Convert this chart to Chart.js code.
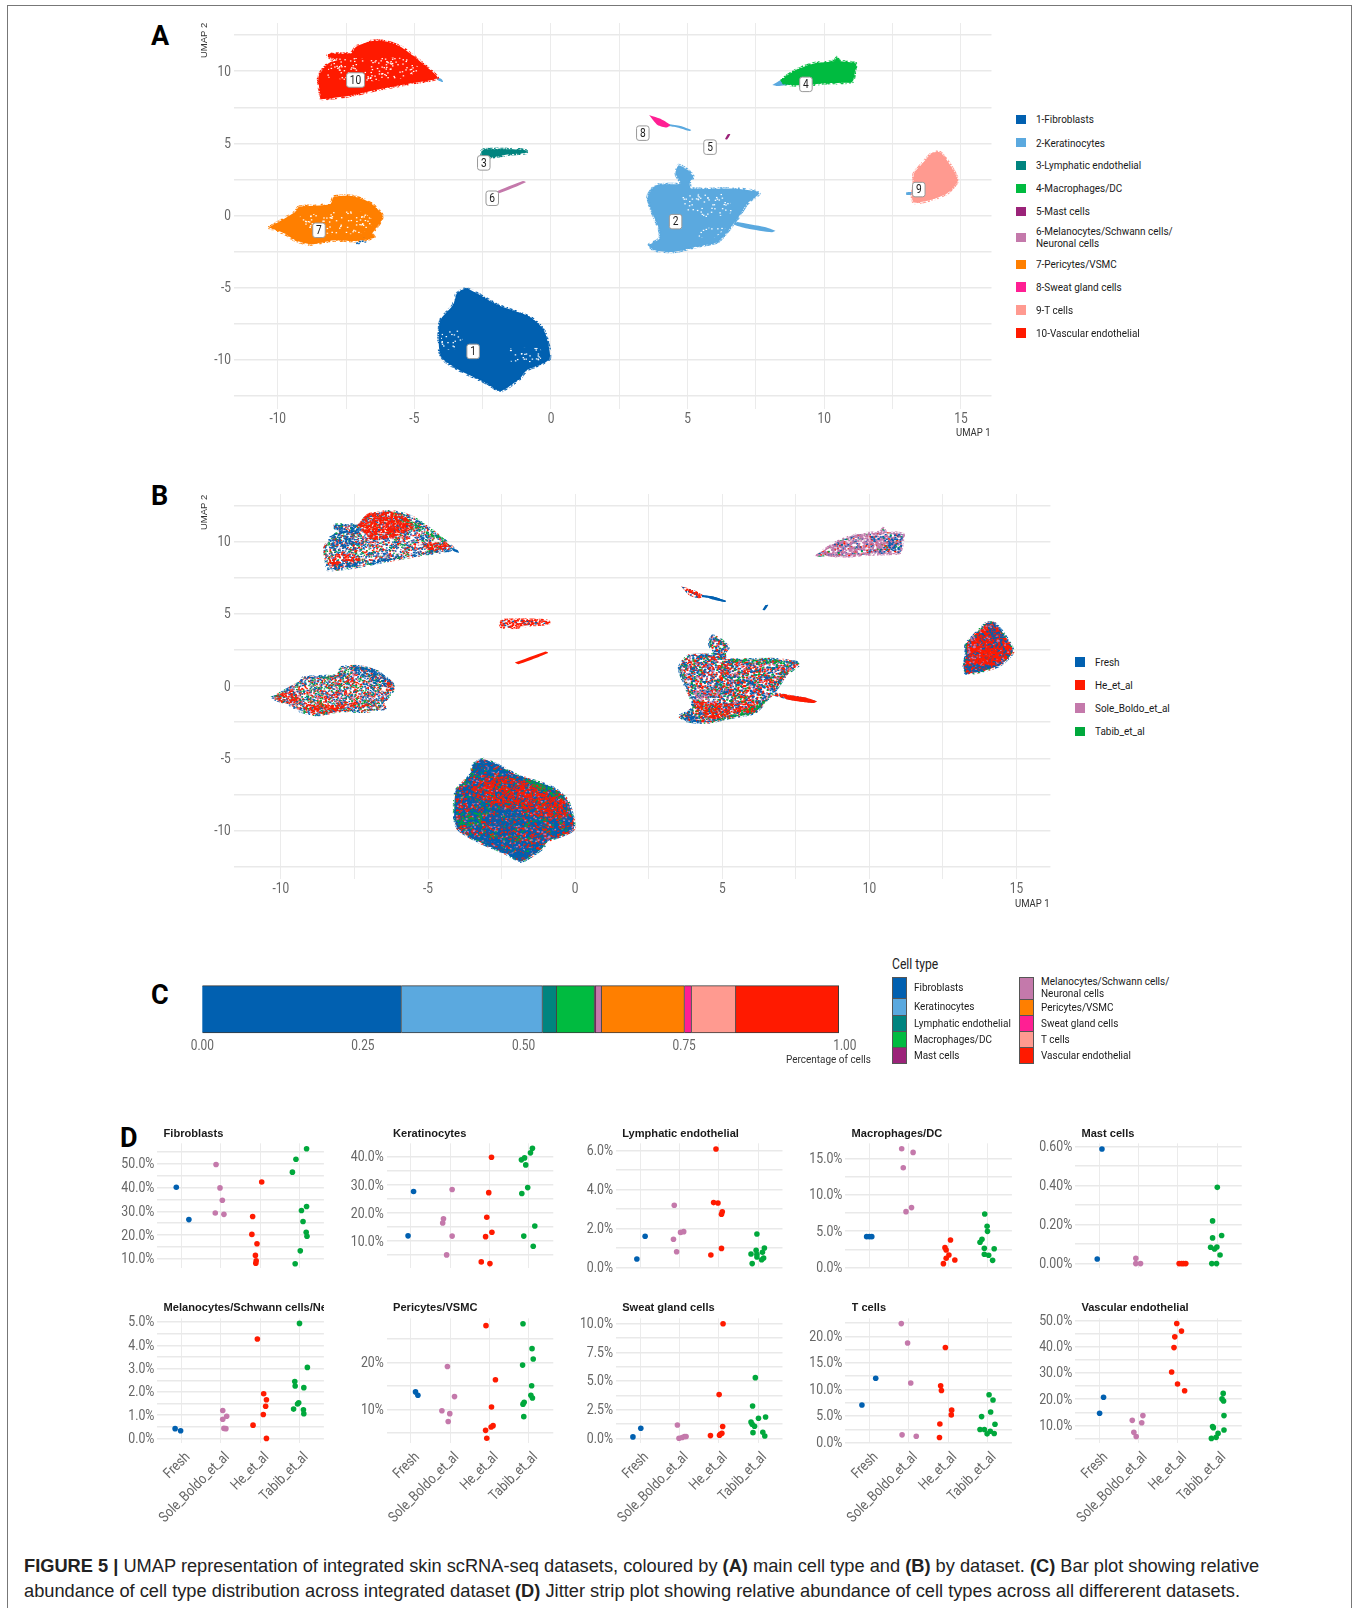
<!DOCTYPE html>
<html>
<head>
<meta charset="utf-8">
<script src="https://cdn.jsdelivr.net/npm/chart.js@4"></script>
<style>
html,body{margin:0;padding:0;background:#fff;}
body{width:1356px;height:1608px;position:relative;overflow:hidden;font-family:Roboto,sans-serif;color:#1a1a1a;}
canvas{position:absolute;}
.t{position:absolute;white-space:nowrap;line-height:1;}
.c{transform:scaleX(.866);transform-origin:left center;}
.sw{position:absolute;box-sizing:border-box;}
#frame{position:absolute;left:7px;top:5px;width:1345px;height:1640px;border:1.6px solid #777;box-sizing:border-box;}
.panel{font-family:Roboto,sans-serif;font-weight:700;font-size:27px;color:#000;}
.facet{font-family:"Liberation Sans",sans-serif;font-weight:700;font-size:11.1px;color:#1a1a1a;overflow:hidden;}
#cap{font-family:"Liberation Sans",sans-serif;font-size:18.25px;color:#222;}
</style>
</head>
<body>
<div id="frame"></div>
<script>
const FONT = 'Roboto,sans-serif';
const GRAY = '#666';
const CONDENSE = 0.85;

const cellColors = {
  Fibroblasts:'#0160B0', Keratinocytes:'#5BA9DF', Lymphatic:'#00847F', Macrophages:'#00BB40', Mast:'#9B2379',
  Melanocytes:'#C479AB', Pericytes:'#FF7F00', Sweat:'#FF1F93', Tcells:'#FF9A90', Vascular:'#FF1A00'
};
const datasetColors = ['#0160B0','#C479AB','#FF1A00','#00A83C'];

/* ---------- Panel A / B : cluster outlines, [UMAP1, UMAP2] ---------- */
const cluster1 = [[-3.46,-5.41],[-3.13,-5.06],[-2.69,-5.41],[-1.92,-6.22],[-0.77,-7.03],[-0.26,-7.95],[-0.05,-9.92],[-0.9,-10.73],[-1.15,-11.31],[-1.85,-12.16],[-2.31,-11.65],[-3.33,-10.73],[-3.97,-9.92],[-4.1,-9.11],[-4.05,-7.26],[-3.59,-6.22]];
const cluster2 = [[3.54,-2.06],[3.79,-2.4],[4.49,-2.52],[5.38,-2.13],[6.1,-1.83],[6.59,-0.79],[6.87,-0.09],[7.18,0.83],[7.62,1.57],[6.67,1.87],[5.13,1.87],[5.08,2.34],[5.21,2.68],[5.0,3.14],[4.67,3.49],[4.56,2.91],[4.74,2.22],[3.85,2.1],[3.54,1.29],[3.72,0.14],[3.97,-1.02],[3.97,-1.6]];
const cluster2Tail = [[6.82,-0.44],[7.82,-0.79],[8.21,-1.06],[8.08,-1.16],[7.18,-0.9],[6.67,-0.6]];
const cluster3 = [[-2.56,4.42],[-2.44,4.58],[-1.15,4.58],[-0.9,4.49],[-0.9,4.35],[-1.54,4.24],[-2.05,4.07],[-2.51,4.12]];
const cluster4 = [[8.41,9.39],[8.97,10.08],[9.62,10.54],[10.38,10.71],[10.46,10.96],[10.56,10.71],[11.15,10.54],[11.13,10.08],[11.03,9.27],[10.64,9.2],[10,9.16],[9.36,9.04],[8.85,9.04],[8.46,9.2]];
const cluster4Tail = [[8.1,9.05],[8.45,9.4],[8.8,9.1],[8.3,8.98]];
const cluster5 = [[6.46,5.62],[6.56,5.64],[6.44,5.27],[6.37,5.3]];
const cluster6 = [[-2.05,1.64],[-1.03,2.4],[-0.92,2.31],[-1.92,1.53]];
const cluster7 = [[-10.33,-0.83],[-9.36,0.25],[-9.23,0.6],[-8.08,0.79],[-7.95,1.29],[-7.31,1.36],[-6.67,0.95],[-6.2,0.14],[-6.2,-0.32],[-6.54,-1.25],[-6.46,-1.53],[-7.18,-1.76],[-7.95,-1.71],[-8.77,-1.99],[-9.36,-1.71],[-9.74,-1.25]];
const cluster7Specks = [[-7.2,-1.55],[-6.7,-1.55],[-6.6,-1.75],[-7.1,-2.0]];
const cluster8 = [[3.59,6.96],[4.05,6.66],[4.36,6.27],[4.23,6.1],[3.9,6.27]];
const cluster8Tail = [[4.31,6.34],[4.74,6.2],[5.13,5.92],[5.08,5.85],[4.62,6.1],[4.31,6.2]];
const cluster9 = [[13.97,4.39],[14.23,4.39],[14.49,3.84],[14.82,2.8],[14.87,2.34],[14.49,1.53],[13.85,1.06],[13.28,0.9],[13.21,1.29],[13.28,2.2],[13.28,2.91],[13.59,3.61]];
const cluster9Speck = [[13.0,1.62],[13.25,1.62],[13.25,1.45],[13.0,1.45]];
const cluster10 = [[-8.41,8.05],[-8.51,9.62],[-8.15,10.54],[-7.69,10.84],[-8.15,10.96],[-8.15,11.19],[-7.31,11.24],[-7.13,11.7],[-6.54,12.09],[-6.03,12.05],[-5.51,11.7],[-5.0,11.0],[-4.49,10.2],[-4.15,9.57],[-4.36,9.39],[-5.13,9.16],[-6.41,8.69],[-7.44,8.28]];
const cluster10Tail = [[-4.2,9.6],[-4.0,9.45],[-3.95,9.25],[-4.15,9.4]];

/* sparse regions of panel A (white showing through the points) */
const sparse10 = [[-8.3,9.6],[-7.9,10.8],[-6.6,10.9],[-5.3,10.9],[-4.8,10.1],[-5.5,9.5],[-7,9.3]];
const sparse2a = [[4.7,1.4],[6.4,1.5],[6.6,0.2],[5.5,-0.1],[4.9,0.3]];
const sparse2b = [[5.5,-0.9],[6.4,-0.8],[6.0,-1.5],[5.4,-1.5]];
const sparse7 = [[-9.5,-0.2],[-8.4,0.2],[-7,0.3],[-6.5,-0.4],[-6.9,-1.2],[-8.4,-1.2]];
const sparse1a = [[-4.0,-7.9],[-3.3,-7.9],[-3.3,-9.2],[-4.0,-9.2]];
const sparse1b = [[-1.5,-9.2],[-0.4,-9.2],[-0.4,-10.1],[-1.5,-10.1]];

const clusterBoxes = [['1',-2.85,-9.41],['2',4.56,-0.42],['3',-2.46,3.65],['4',9.33,9.09],['5',5.82,4.74],['6',-2.15,1.2],['7',-8.49,-1.02],['8',3.36,5.71],['9',13.46,1.8],['10',-7.15,9.39]];

/* Panel B: patches where one dataset dominates */
const bRed10 = [[-7.39,11.18],[-7.03,12.0],[-6.2,12.1],[-5.72,11.65],[-5.48,11.07],[-5.96,10.49],[-6.79,10.14],[-7.15,10.6]];
const bBlue10a = [[-8.41,10.37],[-7.98,10.6],[-7.51,10.37],[-7.51,9.8],[-8.34,9.56]];
const bBlue10b = [[-8.17,11.18],[-7.39,11.18],[-7.39,10.6],[-7.98,10.6]];
const bRed10b = [[-8.41,8.99],[-7.75,9.33],[-7.27,8.76],[-8.22,8.18]];
const bBlue10c = [[-8.34,8.11],[-6.79,8.53],[-5.6,9.1],[-4.29,9.45],[-4.17,9.8],[-5.24,9.22],[-6.79,8.8],[-8.34,8.4]];
const bRed10c = [[-5.12,10.14],[-4.29,9.8],[-4.29,9.45],[-5.0,9.45]];
const bGreen10 = [[-5.72,11.65],[-4.6,10.3],[-4.8,10.3],[-5.85,11.5]];
const bRed1 = [[-3.4,-6.4],[-2.2,-6.3],[-1.0,-7.1],[-0.25,-8.2],[-0.3,-9.1],[-1.5,-8.9],[-3.0,-8.0],[-3.7,-7.4]];
const bBlue1a = [[-3.46,-5.41],[-3.13,-5.06],[-2.0,-6.1],[-2.7,-6.1],[-3.5,-6.0]];
const bBlue1b = [[-3.6,-10.3],[-2.5,-10.6],[-1.3,-11],[-1.85,-12.1],[-2.4,-11.65]];
const bBlue1c = [[-2.9,-8.4],[-1.8,-8.6],[-1.8,-9.6],[-3.0,-9.6]];
const bGreen1 = [[-1.9,-6.25],[-0.8,-7.05],[-0.35,-7.9],[-0.7,-7.7],[-1.4,-7.0]];
const bGreen1b = [[-3.9,-8.8],[-3.2,-8.8],[-3.2,-9.6],[-3.9,-9.6]];
const bBlue7 = [[-7.6,1.2],[-7.1,1.35],[-6.6,0.9],[-6.2,0.2],[-6.6,0.0],[-7.3,0.7]];
const bRed7a = [[-10.3,-0.83],[-9.6,-0.2],[-9.4,-1.0],[-9.8,-1.2]];
const bRed7b = [[-9.3,-1.25],[-8.3,-1.3],[-7.6,-1.2],[-7.0,-1.3],[-7.6,-1.65],[-8.6,-1.9],[-9.2,-1.6]];
const bRed7c = [[-6.4,0.4],[-6.2,0.1],[-6.2,-0.4],[-6.4,-0.5]];
const bRed2a = [[4.0,-1.0],[5.2,-1.2],[6.1,-1.3],[6.1,-1.83],[5.3,-2.05],[4.5,-2.3]];
const bBlue2a = [[3.54,-2.06],[3.97,-1.55],[4.2,-2.45],[3.8,-2.38]];
const bGreen2a = [[4.6,-2.5],[5.4,-2.15],[6.1,-1.85],[6.6,-0.8],[6.2,-1.2],[5.4,-1.9]];
const bGreen2b = [[5.2,1.88],[6.6,1.88],[7.5,1.55],[6.6,1.55],[5.4,1.65]];
const bPink2 = [[4.0,-0.3],[4.9,-0.3],[4.9,-1.1],[4.1,-1.4]];
const bRedTail = [[7.0,-0.55],[7.82,-0.79],[8.21,-1.06],[8.08,-1.16],[7.18,-0.9]];
const bRed9 = [[13.5,3.3],[14.2,3.1],[14.55,2.2],[14.4,1.6],[13.8,1.4],[13.4,2.0]];
const bBlue9 = [[13.97,4.39],[14.23,4.39],[14.6,3.5],[14.2,3.3]];
const bBlue9b = [[13.2,1.5],[14.3,1.4],[13.85,1.06],[13.3,0.9]];
const bPink9 = [[13.3,2.9],[13.55,3.6],[13.6,2.7],[13.35,2.2]];
const bPink4 = [[8.9,9.3],[9.6,10.3],[10.4,10.6],[10.9,10.2],[10.2,9.5],[9.4,9.1]];
const bBlue4 = [[10.0,10.5],[11.1,10.5],[11.05,9.3],[10.7,9.3],[10.4,10.0],[9.9,10.0]];
const bBlue8 = [[4.4,6.3],[4.74,6.2],[5.13,5.92],[5.08,5.85],[4.62,6.05]];

/* legends */
const legendA = ['1-Fibroblasts','2-Keratinocytes','3-Lymphatic endothelial','4-Macrophages/DC','5-Mast cells','6-Melanocytes/Schwann cells/|Neuronal cells','7-Pericytes/VSMC','8-Sweat gland cells','9-T cells','10-Vascular endothelial'];
const legendAY = [119.3,142.7,165.3,188.3,211.3,237.3,264.3,287,310,333];
const legendB = ['Fresh','He_et_al','Sole_Boldo_et_al','Tabib_et_al'];
const legendBY = [662,685,708,731.3];
const legendBColors = ['#0160B0','#FF1A00','#C479AB','#00A83C'];

/* ---------- Panel C ---------- */
const barLabels = ['Fibroblasts','Keratinocytes','Lymphatic endothelial','Macrophages/DC','Mast cells','Melanocytes/Schwann cells/|Neuronal cells','Pericytes/VSMC','Sweat gland cells','T cells','Vascular endothelial'];
const barValues = [0.310,0.2195,0.022,0.059,0.002,0.009,0.129,0.011,0.069,0.160];
const barColors = Object.values(cellColors);
const barTicks = [0,0.25,0.5,0.75,1];

/* ---------- Panel D: jitter values [x position, percent] per panel and dataset ---------- */
const categories = ['Fresh','Sole_Boldo_et_al','He_et_al','Tabib_et_al'];
const fibroblasts = [
 [[.87,40.1],[1.19,26.5]],
 [[1.88,49.6],[1.98,39.8],[2.04,34.6],[1.86,29.3],[2.08,28.7]],
 [[3.04,42.3],[2.81,27.8],[2.79,20.3],[2.92,16.4],[2.88,11.5],[2.9,9.2],[2.89,8.2]],
 [[4.18,56.2],[3.91,51.8],[3.82,46.4],[4.18,32],[4.05,30.3],[4.09,25.7],[4.17,21.2],[4.19,19.5],[4.02,13.4],[3.89,8]]];
const keratinocytes = [
 [[1.07,27.7],[.93,11.9]],
 [[2.05,28.4],[1.83,18],[1.81,16.5],[2.05,11.8],[1.91,5.1]],
 [[3.05,39.9],[2.98,27.3],[2.93,18.5],[3.06,13.2],[2.9,11.6],[2.79,2.6],[3.01,2]],
 [[4.09,43.1],[4.04,41.5],[3.89,39.7],[3.81,39],[3.92,37.2],[3.97,29.1],[3.82,27],[4.15,15.4],[3.87,11.8],[4.11,8.2]]];
const lymphatic = [
 [[.92,.43],[1.13,1.59]],
 [[1.87,3.18],[1.85,1.44],[2.03,1.79],[2.11,1.83],[1.93,.8]],
 [[2.93,6.07],[2.87,3.32],[2.98,3.3],[3.09,2.85],[3.07,2.72],[3.07,.97],[2.8,.63]],
 [[3.97,1.71],[4.16,.99],[3.95,.87],[4.11,.77],[3.82,.68],[3.97,.67],[3.97,.53],[4.14,.48],[4.09,.39],[3.85,.19]]];
const macrophages = [
 [[.93,4.25],[1.0,4.25],[1.06,4.25]],
 [[1.82,16.3],[2.11,15.8],[1.86,13.7],[2.07,8.23],[1.93,7.68]],
 [[3.06,3.8],[2.92,2.74],[2.95,2.42],[3.02,1.74],[2.95,1.28],[3.17,1.05],[2.88,.55]],
 [[3.93,7.36],[3.99,5.67],[4.0,4.98],[3.86,3.89],[3.81,3.48],[3.92,2.65],[4.17,2.6],[3.92,1.83],[4.03,1.69],[4.13,1.0]]];
const mast = [
 [[1.07,.588],[.95,.024]],
 [[1.93,.027],[1.93,0],[2.05,0]],
 [[3.03,0],[3.09,0],[3.14,0],[3.2,0]],
 [[4.0,.391],[3.88,.219],[4.11,.144],[3.88,.132],[3.83,.084],[3.99,.085],[3.93,.075],[4.07,.044],[3.86,0],[3.98,0]]];
const melanocytes = [
 [[.84,.42],[.98,.33]],
 [[2.05,1.2],[2.15,.95],[2.05,.82],[2.08,.43],[2.13,.42]],
 [[2.93,4.27],[3.09,1.92],[3.16,1.66],[3.14,1.38],[3.08,1.03],[2.82,.57],[3.16,0]],
 [[4.0,4.94],[4.2,3.05],[3.88,2.44],[3.89,2.25],[4.11,2.18],[3.98,1.53],[3.95,1.48],[3.85,1.26],[4.1,1.23],[4.11,1.06]]];
const pericytes = [
 [[1.12,13.7],[1.18,13]],
 [[1.93,19.1],[2.11,12.7],[1.79,9.7],[1.99,9.08],[1.95,7.4]],
 [[2.91,27.8],[3.15,16.3],[3.05,10.5],[3.09,6.52],[3.04,6.24],[2.9,5.53],[2.93,3.83]],
 [[3.85,28.2],[4.08,22.9],[4.11,20.7],[3.84,19.4],[4.07,15],[4.05,13],[4.09,12.4],[3.88,11.5],[3.85,11.1],[3.87,8.44]]];
const sweat = [
 [[.82,.12],[1.02,.87]],
 [[1.95,1.16],[1.99,0],[2.07,.06],[2.13,.15],[2.17,.15]],
 [[3.11,10],[3.01,3.81],[3.1,1.02],[3.08,.44],[3.04,.35],[3.02,.26],[2.79,.23]],
 [[3.93,5.29],[3.86,2.82],[4.19,1.86],[4.01,1.74],[3.82,1.42],[3.85,1.22],[3.91,1.05],[4.12,.52],[3.87,.49],[4.17,.2]]];
const tcells = [
 [[1.16,12.1],[.81,7.06]],
 [[1.81,22.4],[1.97,18.75],[2.05,11.2],[1.83,1.44],[2.19,1.19]],
 [[2.93,17.9],[2.81,10.7],[2.83,9.8],[3.09,6.1],[3.08,5.2],[2.79,3.5],[2.78,.94]],
 [[4.04,9],[4.14,8],[4.08,5.75],[3.85,4.88],[4.19,3.44],[3.81,2.44],[3.92,2.44],[4.07,2.13],[3.99,1.63],[4.17,1.69]]];
const vascular = [
 [[1.11,20.7],[1.01,14.6]],
 [[2.11,13.7],[1.84,11.9],[2.08,11],[1.88,7.3],[1.94,5.7]],
 [[2.97,48.9],[3.09,46],[2.92,43.8],[2.9,39.7],[2.84,30.4],[2.99,25.8],[3.17,23.2]],
 [[4.15,22.2],[4.12,20.1],[4.16,19.3],[4.17,13.7],[3.88,9.5],[3.9,9.1],[4.17,8.2],[4.02,6.9],[3.85,5],[3.97,5.4]]];

/* name, values, y min, y max, grid step, label step, decimals */
const facets = [
 ['Fibroblasts',fibroblasts,6.08,58.5,5,10,1],
 ['Keratinocytes',keratinocytes,0.32,44.9,5,10,1],
 ['Lymphatic endothelial',lymphatic,-0.05,6.36,1,2,1],
 ['Macrophages/DC',macrophages,-0.09,17.05,2.5,5,1],
 ['Mast cells',mast,-0.024,0.617,0.1,0.2,2],
 ['Melanocytes/Schwann cells/Neuronal cells',melanocytes,-0.21,5.16,0.5,1,1],
 ['Pericytes/VSMC',pericytes,2.77,29.36,5,10,0],
 ['Sweat gland cells',sweat,-0.44,10.47,1.25,2.5,1],
 ['T cells',tcells,-0.15,23.4,2.5,5,1],
 ['Vascular endothelial',vascular,3.12,50.9,5,10,1]
];
const facetLeft = [157.4,386.8,616,845.4,1075.2];

/* ---------- helpers ---------- */
function addText(txt,x,y,size,cls,extra){
  const d=document.createElement('div');
  d.className='t '+(cls||'');
  d.textContent=txt;
  d.style.left=x+'px';d.style.top=y+'px';
  if(size)d.style.fontSize=size+'px';
  if(extra)Object.assign(d.style,extra);
  document.body.appendChild(d);
  return d;
}
function addSwatch(x,y,w,h,c,border){
  const d=document.createElement('div');d.className='sw';
  Object.assign(d.style,{left:x+'px',top:y+'px',width:w+'px',height:h+'px',background:c});
  if(border)d.style.border=border;
  document.body.appendChild(d);
}
function addCanvas(l,t,w,h){
  const c=document.createElement('canvas');
  c.width=w;c.height=h;
  c.style.left=l+'px';c.style.top=t+'px';c.style.width=w+'px';c.style.height=h+'px';
  document.body.appendChild(c);
  /* the reference's axis font is condensed: narrow every label about its own anchor */
  const g=c.getContext('2d'),orig=g.fillText;
  g.fillText=function(txt,x,y){this.save();this.translate(x,y+0.8);this.scale(CONDENSE,1);orig.call(this,txt,0,0);this.restore();};
  return c;
}
/* canvas and padding that put the plot area exactly on [left,right]x[top,bottom] */
function placed(left,right,top,bottom,axisW,axisH,margin){
  const l=Math.floor(left-axisW),t=Math.floor(top-margin),r=Math.ceil(right+margin),b=Math.ceil(bottom+axisH);
  return {canvas:addCanvas(l,t,r-l,b-t),padding:{left:left-axisW-l,top:top-t,right:r-right,bottom:b-bottom-axisH}};
}
/* grain tiles: texture only, no chart values */
let seed=0x2F6E2B1;
function grainRand(){seed=(seed+0x6D2B79F5)|0;let t=Math.imul(seed^(seed>>>15),1|seed);t=(t+Math.imul(t^(t>>>7),61|t))^t;return ((t^(t>>>14))>>>0)/4294967296;}
function speckle(parts,size,base){
  size=size||1.9;
  const n=160,c=document.createElement('canvas');c.width=c.height=n;
  const g=c.getContext('2d');
  if(base){g.fillStyle=base;g.fillRect(0,0,n,n);}
  const total=parts.reduce((a,p)=>a+p[1],0);
  const count=Math.round(total*n*n/(size*size)*1.6);
  for(let i=0;i<count;i++){
    let r=grainRand()*total,acc=0,col=parts[0][0];
    for(const p of parts){acc+=p[1];if(r<acc){col=p[0];break;}}
    g.fillStyle=col;
    const x=grainRand()*n,y=grainRand()*n,w=size,h=size*.8;
    g.fillRect(x,y,w,h);
    /* wrap around the tile so that no seam shows */
    if(x+w>n)g.fillRect(x-n,y,w,h);
    if(y+h>n)g.fillRect(x,y-n,w,h);
    if(x+w>n&&y+h>n)g.fillRect(x-n,y-n,w,h);
  }
  return g.createPattern(c,'repeat');
}
const BL=datasetColors[0],PK=datasetColors[1],RD=datasetColors[2],GN=datasetColors[3];
function poly(points,fill,edge){
  const data=points.concat([points[0]]).map(p=>({x:p[0],y:p[1]}));
  return {data,showLine:true,fill:'shape',backgroundColor:fill,pointRadius:0,pointHoverRadius:0,tension:0.22,
    borderColor:edge||'rgba(0,0,0,0)',borderWidth:edge?3:0};
}
function layered(list){ /* first item is painted first */
  return list.map((d,i)=>Object.assign(d,{order:list.length-i}));
}
const boxPlugin={id:'boxes',afterDatasetsDraw(chart,args,opts){
  if(!opts.items)return;
  const g=chart.ctx,sx=chart.scales.x,sy=chart.scales.y;
  g.save();
  for(const [txt,x,y] of opts.items){
    const px=sx.getPixelForValue(x),py=sy.getPixelForValue(y),w=txt.length>1?18:12.5,h=14.5;
    g.beginPath();g.roundRect(px-w/2,py-h/2,w,h,2.5);
    g.fillStyle='#fff';g.fill();g.strokeStyle='#999';g.lineWidth=1;g.stroke();
    g.fillStyle='#222';g.font='12px '+FONT;g.textAlign='center';g.textBaseline='middle';
    g.fillText(txt,px,py);
  }
  g.restore();
}};
const umapTicks=(step)=>v=>{const r=v/step;return Math.abs(r-Math.round(r))<1e-6?String(Math.round(v)):'';};

function umapChart(datasets,left,right,top,bottom,xmin,xmax,items){
  const ax=40,bottomH=24,p=placed(left,right,top,bottom,ax,bottomH,14);
  return new Chart(p.canvas,{type:'scatter',data:{datasets},plugins:[boxPlugin],options:{
    responsive:false,animation:false,events:[],
    layout:{autoPadding:false,padding:p.padding},
    plugins:{legend:{display:false},tooltip:{enabled:false},boxes:{items:items||null}},
    scales:{
      x:{type:'linear',min:xmin,max:xmax,afterFit:s=>{s.height=bottomH;},
        border:{display:false},
        grid:{color:'#ebebeb',lineWidth:1,drawTicks:false},
        ticks:{stepSize:2.5,includeBounds:false,autoSkip:false,maxRotation:0,minRotation:0,padding:1,color:GRAY,font:{family:FONT,size:14},callback:umapTicks(5)}},
      y:{type:'linear',min:-13.4,max:13.34,afterFit:s=>{s.width=ax;},
        border:{display:false},
        grid:{color:'#e9e9e9',lineWidth:1.5,drawTicks:false},
        ticks:{stepSize:2.5,includeBounds:false,autoSkip:false,padding:3,color:GRAY,font:{family:FONT,size:14},callback:umapTicks(5)}}
    }
  }});
}

/* ---------- Panel A ---------- */
const W='#ffffff';
const sparse=speckle([[W,.07]],1.5);
const c=cellColors;
const edge=col=>speckle([[col,.45]],1.6);
const dsA=layered([
  poly(cluster1,c.Fibroblasts,edge(c.Fibroblasts)),poly(sparse1a,sparse),poly(sparse1b,sparse),
  poly(cluster2,c.Keratinocytes,edge(c.Keratinocytes)),poly(cluster2Tail,c.Keratinocytes),poly(sparse2a,sparse),poly(sparse2b,sparse),
  poly(cluster3,c.Lymphatic,edge(c.Lymphatic)),
  poly(cluster4Tail,c.Keratinocytes),poly(cluster4,c.Macrophages,edge(c.Macrophages)),
  poly(cluster5,c.Mast),
  poly(cluster6,c.Melanocytes),
  poly(cluster7,c.Pericytes,edge(c.Pericytes)),poly(sparse7,sparse),poly(cluster7Specks,speckle([[c.Fibroblasts,.14]])),
  poly(cluster8Tail,c.Keratinocytes),poly(cluster8,c.Sweat),
  poly(cluster9Speck,c.Keratinocytes),poly(cluster9,c.Tcells,edge(c.Tcells)),
  poly(cluster10Tail,c.Keratinocytes),poly(cluster10,c.Vascular,edge(c.Vascular)),poly(sparse10,speckle([[W,.09]],1.5))
]);
umapChart(dsA,234,991.5,23,409,-11.6,16.12,clusterBoxes);

/* ---------- Panel B ---------- */
const mixMain=speckle([[BL,.4],[RD,.36],[PK,.14],[GN,.13]]);
const mix1=speckle([[BL,.42],[RD,.32],[PK,.15],[GN,.11]],1.9,BL);
const mix4=speckle([[PK,.6],[BL,.17],[RD,.12],[GN,.08]]);
const mix9=speckle([[RD,.45],[BL,.38],[PK,.15]],1.9,RD);
const mix7=speckle([[BL,.27],[RD,.27],[GN,.17],[PK,.14]],1.6);
const mix10=speckle([[BL,.28],[RD,.22],[GN,.1],[PK,.1]],1.6);
const mixRB=speckle([[RD,.6],[BL,.3]]);
const pRed=speckle([[RD,.45]]), pRedSolid=speckle([[RD,.85],[BL,.02]]), pBlue=speckle([[BL,.45]]), pGreen=speckle([[GN,.32]]), pPink=speckle([[PK,.3]]);
const edgeB=speckle([[BL,.3],[RD,.08],[GN,.1]],1.6);
const dsB=layered([
  poly(cluster1,mix1,edgeB),poly(bRed1,pRed),poly(bBlue1a,pBlue),poly(bBlue1b,pBlue),poly(bBlue1c,pBlue),poly(bGreen1,pGreen),poly(bGreen1b,pGreen),
  poly(cluster2,mixMain,edgeB),poly(bPink2,pPink),poly(bRed2a,pRed),poly(bBlue2a,pBlue),poly(bGreen2a,pGreen),poly(bGreen2b,pGreen),
  poly(cluster2Tail,mixRB),poly(bRedTail,RD),
  poly(cluster3,mixRB,edge(RD)),
  poly(cluster4Tail,mix4),poly(cluster4,mix4,edge(PK)),poly(bPink4,pPink),poly(bBlue4,speckle([[BL,.25]])),
  poly(cluster5,BL),
  poly(cluster6,RD),
  poly(cluster7,mix7,edgeB),poly(bBlue7,pBlue),poly(bRed7a,pRed),poly(bRed7b,pRed),poly(bRed7c,pRed),
  poly(cluster8,mixRB),poly(cluster8Tail,BL),poly(bBlue8,BL),
  poly(cluster9,mix9,edgeB),poly(bRed9,pRed),poly(bBlue9,pBlue),poly(bBlue9b,pBlue),poly(bPink9,pPink),
  poly(cluster10,mix10,edgeB),poly(bBlue10a,pBlue),poly(bBlue10b,pBlue),poly(bRed10b,pRed),poly(bBlue10c,pBlue),poly(bRed10c,pRed),poly(bGreen10,pGreen),poly(bRed10,pRedSolid),
  poly(cluster10Tail,BL)
]);
umapChart(dsB,233.8,1050.4,494,879.3,-11.6,16.15);

/* axis titles, panel letters */
addText('UMAP 2',199,58,9.5,'',{fontFamily:'"Liberation Sans",sans-serif',color:'#333',transform:'rotate(-90deg)',transformOrigin:'left top'});
addText('UMAP 2',199,530,9.5,'',{fontFamily:'"Liberation Sans",sans-serif',color:'#333',transform:'rotate(-90deg)',transformOrigin:'left top'});
addText('UMAP 1',956,427,11,'c',{color:'#333'});
addText('UMAP 1',1015,898,11,'c',{color:'#333'});
addText('A',151,23,27,'panel');
addText('B',151,483,27,'panel');
addText('C',151,982,27,'panel');
addText('D',120,1125,27,'panel');

/* legends A, B */
legendA.forEach((s,i)=>{
  addSwatch(1016,legendAY[i]-4.7,10,9.4,barColors[i]);
  const parts=s.split('|');
  if(parts.length===1)addText(s,1036,legendAY[i]-5,11.5,'c');
  else parts.forEach((p,j)=>addText(p,1036,legendAY[i]-11+j*12,11.5,'c'));
});
legendB.forEach((s,i)=>{
  addSwatch(1075,legendBY[i]-4.7,10,9.4,legendBColors[i]);
  addText(s,1094.6,legendBY[i]-5,11.5,'c');
});

/* ---------- Panel C ---------- */
new Chart(addCanvas(170,975,720,90),{type:'bar',
  data:{labels:['Percentage of cells'],datasets:barValues.map((v,i)=>({label:barLabels[i],data:[v],backgroundColor:barColors[i],borderColor:'#3a3a3a',borderWidth:1,barPercentage:1,categoryPercentage:1,clip:false}))},
  options:{indexAxis:'y',responsive:false,animation:false,events:[],
    layout:{autoPadding:false,padding:{left:32.3,top:10.7,right:45.2,bottom:0}},
    plugins:{legend:{display:false},tooltip:{enabled:false}},
    scales:{
      x:{type:'linear',stacked:true,min:barTicks[0],max:barTicks[4],afterFit:s=>{s.height=32;},afterBuildTicks:s=>{s.ticks=barTicks.map(value=>({value}));},
        border:{display:false},grid:{display:false,drawTicks:false},
        ticks:{autoSkip:false,maxRotation:0,padding:4,color:GRAY,font:{family:FONT,size:14},callback:v=>v.toFixed(2)}},
      y:{stacked:true,display:false}
    }}
});
addText('Percentage of cells',786,1054,11.5,'c',{color:'#333'});
addText('Cell type',892,957,14,'c',{color:'#222'});
const cRows1=[[976.7,998.3,987.7],[998.3,1015,1006.7],[1015,1030.7,1023.3],[1030.7,1046.7,1039],[1046.7,1062.7,1055]];
const cRows2=[[976.7,999.3,987.7],[999.3,1015,1007],[1015,1030.7,1023],[1030.7,1046.7,1039],[1046.7,1062.7,1055]];
barLabels.forEach((s,i)=>{
  const col=i<5?0:1,r=(col?cRows2:cRows1)[i%5],x=col?1019:892,tx=col?1041:914.3;
  addSwatch(x,r[0],15,r[1]-r[0]+1,barColors[i],'1.5px solid #555');
  const parts=s.split('|');
  if(parts.length===1)addText(s,tx,r[2]-5.5,11.5,'c');
  else parts.forEach((p,j)=>addText(p,tx,r[2]-11.5+j*12,11.5,'c'));
});

/* ---------- Panel D ---------- */
facets.forEach((f,i)=>{
  const [name,values,ymin,ymax,step,labelStep,dec]=f;
  const row=i<5?0:1,left=facetLeft[i%5],top=row?1318.3:1143.3,areaH=125,areaW=166.5,ax=48;
  const xH=row?92:14;
  const p=placed(left,left+areaW,top,top+areaH,ax,xH,14);
  new Chart(p.canvas,{type:'scatter',
    data:{datasets:values.map((pts,k)=>({data:pts.map(v=>({x:v[0],y:v[1]})),backgroundColor:datasetColors[k],borderWidth:0,pointRadius:2.8,pointHoverRadius:2.8,clip:false}))},
    options:{responsive:false,animation:false,events:[],
      layout:{autoPadding:false,padding:p.padding},
      plugins:{legend:{display:false},tooltip:{enabled:false}},
      scales:{
        x:{type:'linear',min:0.39,max:4.62,afterFit:s=>{s.height=xH;},
          afterBuildTicks:s=>{s.ticks=categories.map((_,n)=>({value:n+1}));},
          border:{display:false},grid:{color:'#ebebeb',lineWidth:1,drawTicks:false},
          ticks:{display:row===1,autoSkip:false,minRotation:45,maxRotation:45,padding:5,labelOffset:6,color:GRAY,font:{family:FONT,size:14.5},callback:v=>categories[v-1]}},
        y:{type:'linear',min:ymin,max:ymax,afterFit:s=>{s.width=ax;},
          border:{display:false},grid:{color:'#e9e9e9',lineWidth:1.4,drawTicks:false},
          ticks:{stepSize:step,includeBounds:false,autoSkip:false,padding:3,color:GRAY,font:{family:FONT,size:14.5},
            callback:v=>{const r=v/labelStep;return Math.abs(r-Math.round(r))<1e-6?v.toFixed(dec)+'%':'';}}}
      }}
  });
  addText(name,left+6.2,(row?1307.3:1132.7)-5,11.1,'facet',{width:(areaW-6.2)+'px'});
});

/* caption */
const cap=document.createElement('div');cap.id='cap';cap.className='t';
cap.style.left='24px';cap.style.top='1552.5px';cap.style.lineHeight='25px';
cap.innerHTML='<b>FIGURE 5 |</b> UMAP representation of integrated skin scRNA-seq datasets, coloured by <b>(A)</b> main cell type and <b>(B)</b> by dataset. <b>(C)</b> Bar plot showing relative<br>abundance of cell type distribution across integrated dataset <b>(D)</b> Jitter strip plot showing relative abundance of cell types across all differerent datasets.';
document.body.appendChild(cap);
</script>
</body>
</html>
